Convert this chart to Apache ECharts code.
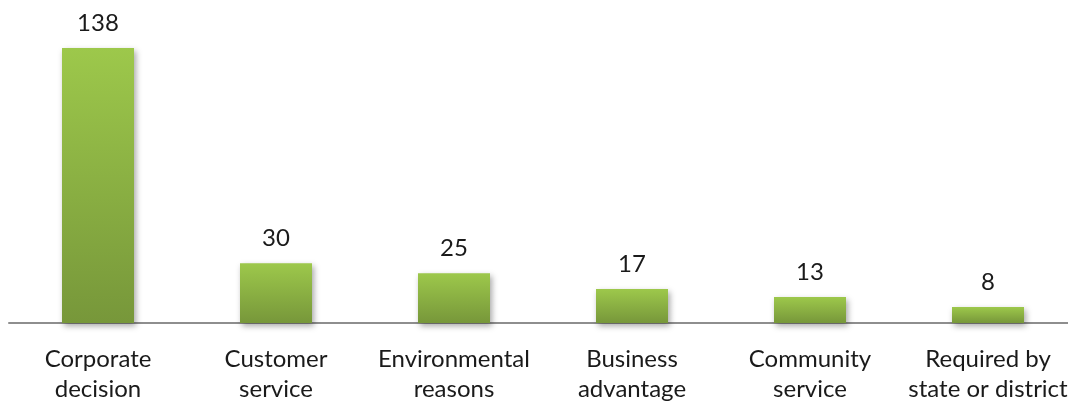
<!DOCTYPE html>
<html>
<head>
<meta charset="utf-8">
<script src="https://cdn.jsdelivr.net/npm/echarts@6/dist/echarts.min.js"></script>
<style>
  html, body { margin: 0; padding: 0; background: #ffffff; }
  #chart { width: 1068px; height: 402px; }
</style>
</head>
<body>
<div id="chart"></div>
<script>
// Reasons given, with the number of respondents for each
const categories = [
  'Corporate\ndecision',
  'Customer\nservice',
  'Environmental\nreasons',
  'Business\nadvantage',
  'Community\nservice',
  'Required by\nstate or district'
];
const counts = [138, 30, 25, 17, 13, 8];

const chart = echarts.init(document.getElementById('chart'), null, { renderer: 'canvas' });

const barFill = new echarts.graphic.LinearGradient(0, 0, 0, 1, [
  { offset: 0, color: '#9dc84b' },
  { offset: 1, color: '#77973a' }
]);

chart.setOption({
  animation: false,
  backgroundColor: '#ffffff',
  textStyle: { fontFamily: 'Lato, "Open Sans", sans-serif' },
  grid: {
    left: 9, top: 44, width: 1068, bottom: 79,
    containLabel: false,
    outerBoundsMode: 'none'
  },
  xAxis: {
    type: 'category',
    data: categories,
    axisLine: { show: true, lineStyle: { color: '#8e8e8e', width: 2 } },
    axisTick: { show: false },
    axisLabel: {
      interval: 0,
      color: '#1a1a1a',
      fontSize: 24,
      lineHeight: 30,
      margin: 21,
      hideOverlap: false,
      fontFamily: 'Lato, "Open Sans", sans-serif'
    }
  },
  yAxis: {
    type: 'value',
    min: 0,
    max: 140,
    show: false,
    splitLine: { show: false }
  },
  series: [{
    type: 'bar',
    data: counts,
    barWidth: 72,
    itemStyle: {
      color: barFill,
      shadowColor: 'rgba(0,0,0,0.35)',
      shadowBlur: 6,
      shadowOffsetX: 2,
      shadowOffsetY: 3
    },
    label: {
      show: true,
      position: 'top',
      distance: 13,
      color: '#1a1a1a',
      fontSize: 24,
      fontFamily: 'Lato, "Open Sans", sans-serif'
    }
  }]
});
</script>
</body>
</html>
